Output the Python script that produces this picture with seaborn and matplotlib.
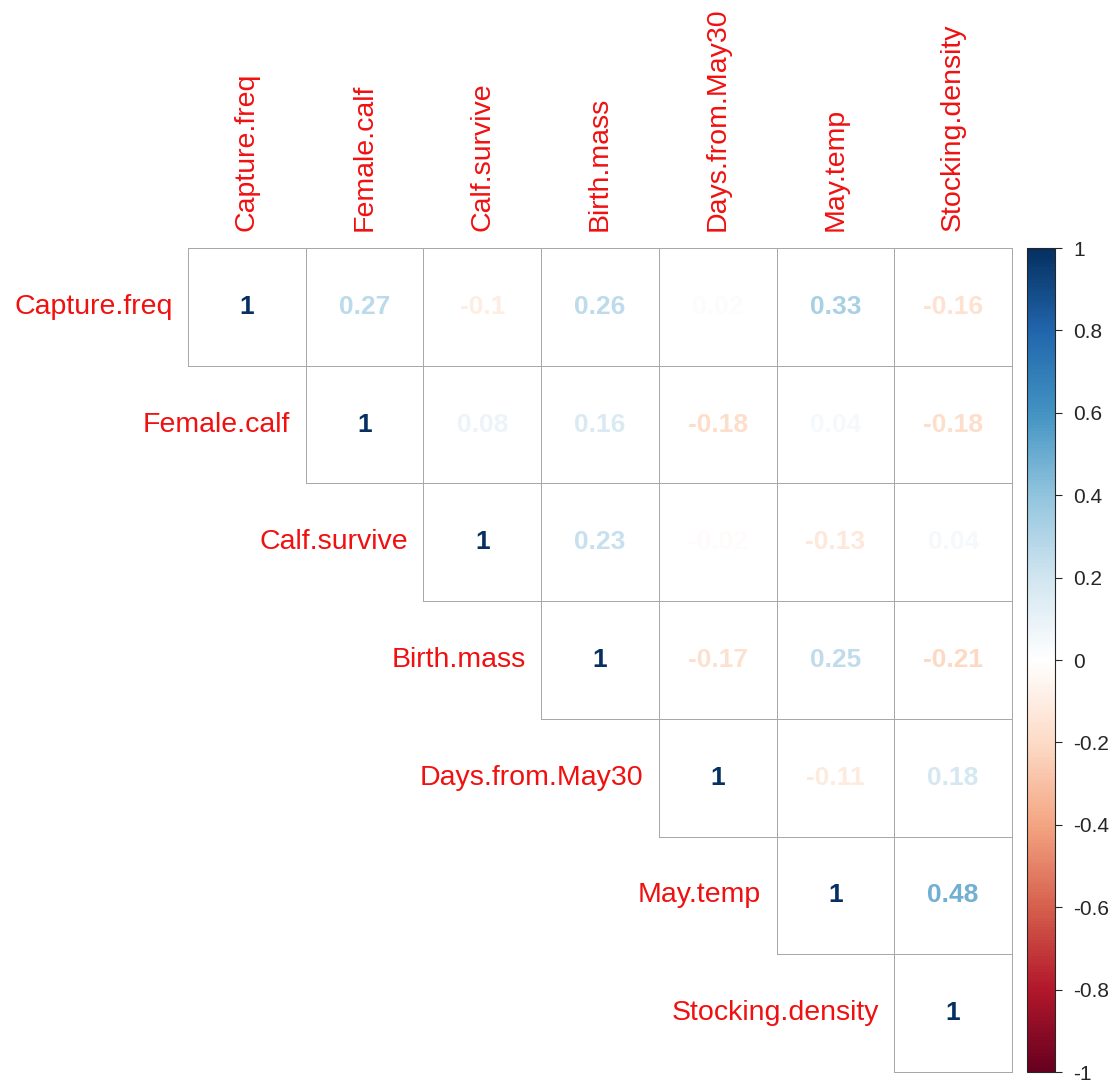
import matplotlib

matplotlib.use("Agg")

import matplotlib.pyplot as plt  # noqa: E402
import numpy as np  # noqa: E402
import pandas as pd  # noqa: E402
import seaborn as sns  # noqa: E402
from matplotlib.colors import LinearSegmentedColormap, ListedColormap, Normalize  # noqa: E402

variables = ["Capture.freq", "Female.calf", "Calf.survive", "Birth.mass",
             "Days.from.May30", "May.temp", "Stocking.density"]

# upper triangle of the correlation matrix, row by row (diagonal first)
row_capture = [1, 0.27, -0.1, 0.26, 0.02, 0.33, -0.16]
row_female = [1, 0.08, 0.16, -0.18, 0.04, -0.18]
row_survive = [1, 0.23, -0.02, -0.13, 0.04]
row_mass = [1, -0.17, 0.25, -0.21]
row_days = [1, -0.11, 0.18]
row_temp = [1, 0.48]
row_density = [1]

cbar_ticks = [-1, -0.8, -0.6, -0.4, -0.2, 0, 0.2, 0.4, 0.6, 0.8, 1]

rows = [row_capture, row_female, row_survive, row_mass, row_days, row_temp, row_density]
n = len(variables)
corr = np.zeros((n, n))
for i, r in enumerate(rows):
    corr[i, i:] = r
    corr[i:, i] = r
df = pd.DataFrame(corr, index=variables, columns=variables)

# corrplot's RdBu palette
cmap = LinearSegmentedColormap.from_list(
    "corr_rdbu",
    ["#67001F", "#B2182B", "#D6604D", "#F4A582", "#FDDBC7", "#FFFFFF",
     "#D1E5F0", "#92C5DE", "#4393C3", "#2166AC", "#053061"],
)
norm = Normalize(-1, 1)

sns.set_style("white")
plt.rcParams["font.family"] = ["Liberation Sans", "DejaVu Sans"]

W, H = 1116, 1087
fig = plt.figure(figsize=(W / 100, H / 100), dpi=100)
ax = fig.add_axes([188 / W, 15 / H, 824 / W, 824 / H])
cax = fig.add_axes([1027 / W, 15 / H, 28 / W, 824 / H])

mask = np.tril(np.ones_like(corr, dtype=bool), k=-1)
labels = np.vectorize(lambda v: f"{v:g}")(np.round(corr, 2))

grid_col = "#a8a8a8"
sns.heatmap(
    df,
    mask=mask,
    cmap=ListedColormap(["white"]),
    cbar=False,
    linewidths=0.65,
    linecolor=grid_col,
    annot=labels,
    fmt="",
    annot_kws={"fontsize": 19, "fontweight": "bold"},
    square=False,
    ax=ax,
)

# hide the borders of the masked (lower) cells, keep the outer edges visible
mesh = ax.collections[0]
edge = np.tile(matplotlib.colors.to_rgba(grid_col), (n * n, 1))
edge[mask.ravel(), 3] = 0
mesh.set_edgecolors(edge)
mesh.set_clip_on(False)

# colour each number by its coefficient
for t in ax.texts:
    x, y = t.get_position()
    t.set_color(cmap(norm(corr[int(y), int(x)])))

ax.xaxis.tick_top()
ax.set_xticklabels(variables, rotation=90, color="#f01010", fontsize=20.5)
ax.tick_params(axis="x", length=0, pad=12)
ax.set_yticks([])
ax.set_xlabel("")
ax.set_ylabel("")

# row labels sit just left of the diagonal cell
for i, name in enumerate(variables):
    ax.text(i - 0.13, i + 0.5, name, ha="right", va="center",
            color="#f01010", fontsize=20.5)

sm = plt.cm.ScalarMappable(cmap=cmap, norm=norm)
cb = fig.colorbar(sm, cax=cax, ticks=cbar_ticks)
cb.ax.set_yticklabels([f"{v:g}" for v in cbar_ticks])
cb.ax.tick_params(labelsize=15, length=5, width=0.8, pad=8)
cb.outline.set_linewidth(0.8)

plt.savefig("out.png", dpi=100)
plt.close()
